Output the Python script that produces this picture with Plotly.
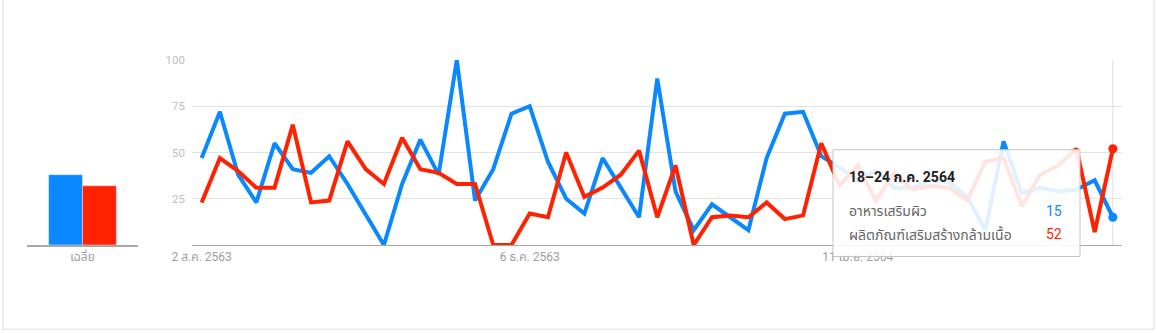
import plotly.graph_objects as go

# ---- data ----
series_names = ["อาหารเสริมผิว", "ผลิตภัณฑ์เสริมสร้างกล้ามเนื้อ"]
skin = [47, 72, 38, 23, 55, 41, 39, 48, 33, 17, 0, 33, 57, 38, 100, 24, 41, 71, 75, 45,
        25, 17, 47, 31, 15, 90, 29, 8, 22, 15, 8, 47, 71, 72, 48, 42, 35, 40, 31, 31,
        35, 34, 26, 8, 56, 28, 31, 29, 30, 35, 15]
muscle = [23, 47, 40, 31, 31, 65, 23, 24, 56, 41, 33, 58, 41, 39, 33, 33, 0, 0, 17, 15,
          50, 26, 31, 38, 51, 15, 43, 0, 15, 16, 15, 23, 14, 16, 55, 32, 43, 24, 39, 30,
          32, 31, 24, 45, 47, 21, 38, 43, 52, 7, 52]
averages = [38, 32]
avg_label = ["เฉลี่ย"]
week_index = list(range(len(skin)))
tick_pos = [0, 18, 36]
tick_text = ["2 ส.ค. 2563", "6 ธ.ค. 2563", "11 เม.ย. 2564"]
y_ticks = [25, 50, 75, 100]
tooltip_title = "18–24 ก.ค. 2564"

BLUE = "#0a88ff"
RED = "#ff2200"
FONT = "Roboto, 'Noto Sans Thai', 'Noto Sans', sans-serif"
W, H = 1157, 333
TOP, BOT = 60, 245.5
PH = BOT - TOP


def py(pix):
    return (BOT - pix) / PH


fig = go.Figure()

# average bars
fig.add_trace(go.Bar(x=avg_label, y=[averages[0]], marker_color=BLUE, xaxis="x", yaxis="y",
                     showlegend=False, hoverinfo="skip"))
fig.add_trace(go.Bar(x=avg_label, y=[averages[1]], marker_color=RED, xaxis="x", yaxis="y",
                     showlegend=False, hoverinfo="skip"))

# time series lines
fig.add_trace(go.Scatter(x=week_index, y=skin, mode="lines", line=dict(color=BLUE, width=4),
                         xaxis="x2", yaxis="y2", showlegend=False, hoverinfo="skip"))
fig.add_trace(go.Scatter(x=week_index, y=muscle, mode="lines", line=dict(color=RED, width=4),
                         xaxis="x2", yaxis="y2", showlegend=False, hoverinfo="skip"))
# highlighted last points
fig.add_trace(go.Scatter(x=[week_index[-1]], y=[skin[-1]], mode="markers",
                         marker=dict(color=BLUE, size=9), xaxis="x2", yaxis="y2",
                         showlegend=False, hoverinfo="skip"))
fig.add_trace(go.Scatter(x=[week_index[-1]], y=[muscle[-1]], mode="markers",
                         marker=dict(color=RED, size=9), xaxis="x2", yaxis="y2",
                         showlegend=False, hoverinfo="skip"))

shapes = [
    # card border
    dict(type="rect", xref="paper", yref="paper", x0=3 / W, x1=1154 / W,
         y0=py(330), y1=py(-10), line=dict(color="#e8e8e8", width=1.5), layer="below"),
    # hover vertical line
    dict(type="line", xref="x2", yref="y2", x0=week_index[-1], x1=week_index[-1], y0=0, y1=100,
         line=dict(color="#dddddd", width=1), layer="below"),
    # tooltip box
    dict(type="rect", xref="paper", yref="paper", x0=833 / W, x1=1080 / W,
         y0=py(257), y1=py(150),
         fillcolor="rgba(255,255,255,0.88)", line=dict(color="#c4c4c4", width=1), layer="above"),
]

annotations = [
    dict(text="<b>" + tooltip_title + "</b>", xref="paper", yref="paper", x=847 / W, y=py(177),
         xanchor="left", yanchor="middle", showarrow=False,
         font=dict(family=FONT, size=14, color="#212121")),
    dict(text=series_names[0], xref="paper", yref="paper", x=847 / W, y=py(211),
         xanchor="left", yanchor="middle", showarrow=False,
         font=dict(family=FONT, size=14, color="#666666")),
    dict(text=str(skin[-1]), xref="paper", yref="paper", x=1064 / W, y=py(211),
         xanchor="right", yanchor="middle", showarrow=False,
         font=dict(family=FONT, size=14, color=BLUE)),
    dict(text=series_names[1], xref="paper", yref="paper", x=847 / W, y=py(234),
         xanchor="left", yanchor="middle", showarrow=False,
         font=dict(family=FONT, size=14, color="#666666")),
    dict(text=str(muscle[-1]), xref="paper", yref="paper", x=1064 / W, y=py(234),
         xanchor="right", yanchor="middle", showarrow=False,
         font=dict(family=FONT, size=14, color=RED)),
]

fig.update_layout(
    width=W, height=H,
    margin=dict(l=0, r=0, t=TOP, b=H - BOT, pad=0, autoexpand=False),
    paper_bgcolor="white", plot_bgcolor="white",
    font=dict(family=FONT, size=11, color="#9e9e9e"),
    barmode="group", bargap=0.39, bargroupgap=0,
    xaxis=dict(domain=[27 / W, 138 / W], showgrid=False, showline=True, linecolor="#a8a8a8",
               linewidth=1.5, ticks="", tickfont=dict(size=12, color="#9e9e9e"), fixedrange=True),
    yaxis=dict(domain=[0, 1], range=[0, 100], visible=False, fixedrange=True),
    xaxis2=dict(domain=[192 / W, 1122 / W], anchor="y2", range=[-0.53, 50.5],
                tickvals=tick_pos, ticktext=tick_text, showgrid=False, zeroline=False,
                showline=True, linecolor="#a8a8a8", linewidth=1.2, ticks="",
                tickfont=dict(size=12, color="#9e9e9e")),
    yaxis2=dict(domain=[0, 1], anchor="x2", range=[0, 100], tickvals=y_ticks,
                showgrid=True, gridcolor="#e3e3e3", gridwidth=1, zeroline=False,
                ticks="", tickfont=dict(size=11.5, color="#c0c0c0"), ticklabelstandoff=6),
    shapes=shapes,
    annotations=annotations,
)

fig.write_html("out.html")
